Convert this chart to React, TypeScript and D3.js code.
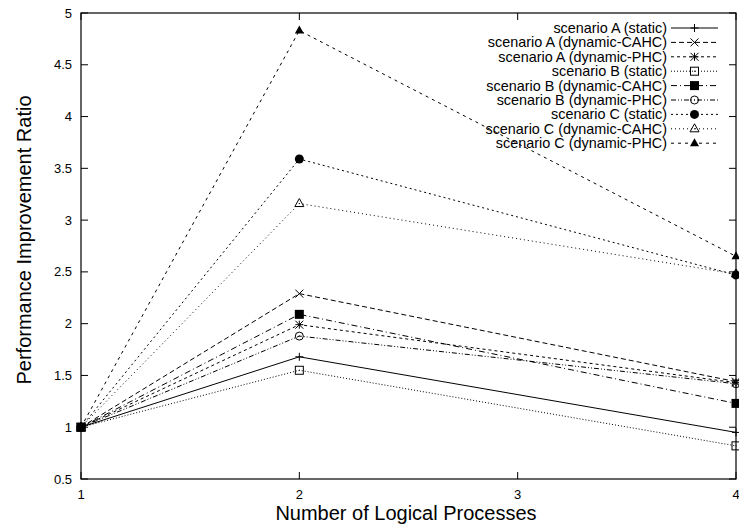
import React from "react";
import * as d3 from "d3";

const processes = [1, 2, 4];
const xTicks = [1, 2, 3, 4];
const yTicks = [0.5, 1, 1.5, 2, 2.5, 3, 3.5, 4, 4.5, 5];

const seriesNames = [
  "scenario A (static)",
  "scenario A (dynamic-CAHC)",
  "scenario A (dynamic-PHC)",
  "scenario B (static)",
  "scenario B (dynamic-CAHC)",
  "scenario B (dynamic-PHC)",
  "scenario C (static)",
  "scenario C (dynamic-CAHC)",
  "scenario C (dynamic-PHC)",
];

const aStatic = [1, 1.68, 0.95];
const aCAHC = [1, 2.29, 1.44];
const aPHC = [1, 1.99, 1.43];
const bStatic = [1, 1.55, 0.82];
const bCAHC = [1, 2.09, 1.23];
const bPHC = [1, 1.88, 1.42];
const cStatic = [1, 3.59, 2.47];
const cCAHC = [1, 3.16, 2.48];
const cPHC = [1, 4.83, 2.65];

const seriesValues = [aStatic, aCAHC, aPHC, bStatic, bCAHC, bPHC, cStatic, cCAHC, cPHC];

const dashes = ["", "5,3", "3,3", "1,2", "6,3,1,3", "5,2,1,2,1,2", "2,3", "1,3", "3,4"];
const markers = ["plus", "cross", "star", "square", "squareFill", "circle", "circleFill", "triangle", "triangleFill"];

const W = 739;
const H = 531;
const left = 81;
const right = 736;
const top = 13;
const bottom = 479;

const font = "Liberation Sans, Arial, Helvetica, sans-serif";

function Marker({ kind, x, y }: { kind: string; x: number; y: number }) {
  const s = 4;
  const st = { stroke: "#000", strokeWidth: 1, fill: "none" };
  switch (kind) {
    case "plus":
      return <path d={`M${x - s},${y}H${x + s}M${x},${y - s}V${y + s}`} {...st} />;
    case "cross":
      return <path d={`M${x - s},${y - s}L${x + s},${y + s}M${x - s},${y + s}L${x + s},${y - s}`} {...st} />;
    case "star":
      return (
        <path
          d={`M${x - s},${y}H${x + s}M${x},${y - s}V${y + s}M${x - s},${y - s}L${x + s},${y + s}M${x - s},${y + s}L${x + s},${y - s}`}
          {...st}
        />
      );
    case "square":
      return (
        <g>
          <rect x={x - 4} y={y - 4} width={8} height={8} {...st} />
          <rect x={x - 0.5} y={y - 0.5} width={1} height={1} fill="#000" />
        </g>
      );
    case "squareFill":
      return <rect x={x - 4.5} y={y - 4.5} width={9} height={9} fill="#000" />;
    case "circle":
      return (
        <g>
          <circle cx={x} cy={y} r={4} {...st} />
          <rect x={x - 0.5} y={y - 0.5} width={1} height={1} fill="#000" />
        </g>
      );
    case "circleFill":
      return <circle cx={x} cy={y} r={4.5} fill="#000" />;
    case "triangle":
      return (
        <g>
          <path d={`M${x},${y - 5}L${x + 4.5},${y + 3}L${x - 4.5},${y + 3}Z`} {...st} />
          <rect x={x - 0.5} y={y - 0.5} width={1} height={1} fill="#000" />
        </g>
      );
    case "triangleFill":
      return <path d={`M${x},${y - 5}L${x + 4.5},${y + 3}L${x - 4.5},${y + 3}Z`} fill="#000" />;
    default:
      return null;
  }
}

export default function App() {
  const x = d3.scaleLinear().domain([1, 4]).range([left, right]);
  const y = d3.scaleLinear().domain([0.5, 5]).range([bottom, top]);
  const line = d3
    .line<number>()
    .x((_, i) => x(processes[i]))
    .y((v) => y(v));

  const legendX = 667;
  const legendY0 = 28;
  const legendStep = 14.4;

  return (
    <svg
      width={W}
      height={H}
      style={{ position: "absolute", left: 0, top: 0, background: "#fff" }}
      fontFamily={font}
    >
      <rect width={W} height={H} fill="#fff" />
      {/* tick marks on all four sides */}
      {yTicks.map((t) => (
        <g key={"y" + t}>
          <line x1={left} x2={left + 7} y1={y(t)} y2={y(t)} stroke="#000" />
          <line x1={right} x2={right - 7} y1={y(t)} y2={y(t)} stroke="#000" />
          <text x={left - 9} y={y(t)} dy="0.35em" textAnchor="end" fontSize={13}>
            {String(t)}
          </text>
        </g>
      ))}
      {xTicks.map((t) => (
        <g key={"x" + t}>
          <line x1={x(t)} x2={x(t)} y1={bottom} y2={bottom - 7} stroke="#000" />
          <line x1={x(t)} x2={x(t)} y1={top} y2={top + 7} stroke="#000" />
          <text x={x(t)} y={499} textAnchor="middle" fontSize={13}>
            {String(t)}
          </text>
        </g>
      ))}
      {/* data lines */}
      {seriesValues.map((vals, i) => (
        <g key={"s" + i}>
          <path d={line(vals) || ""} fill="none" stroke="#000" strokeWidth={1} strokeDasharray={dashes[i]} />
          {vals.map((v, j) => (
            <Marker key={j} kind={markers[i]} x={x(processes[j])} y={y(v)} />
          ))}
        </g>
      ))}
      {/* legend */}
      {seriesNames.map((name, i) => {
        const ly = legendY0 + i * legendStep;
        return (
          <g key={"l" + i}>
            <text x={legendX} y={ly} dy="0.35em" textAnchor="end" fontSize={14.4}>
              {name}
            </text>
            <line x1={671} x2={718} y1={ly} y2={ly} stroke="#000" strokeDasharray={dashes[i]} />
            <Marker kind={markers[i]} x={694.5} y={ly} />
          </g>
        );
      })}
      <rect x={left} y={top} width={right - left} height={bottom - top} fill="none" stroke="#000" strokeWidth={1.2} />
      <text x={406} y={520} textAnchor="middle" fontSize={20}>
        Number of Logical Processes
      </text>
      <text transform={`translate(31,240) rotate(-90)`} textAnchor="middle" fontSize={20}>
        Performance Improvement Ratio
      </text>
    </svg>
  );
}
